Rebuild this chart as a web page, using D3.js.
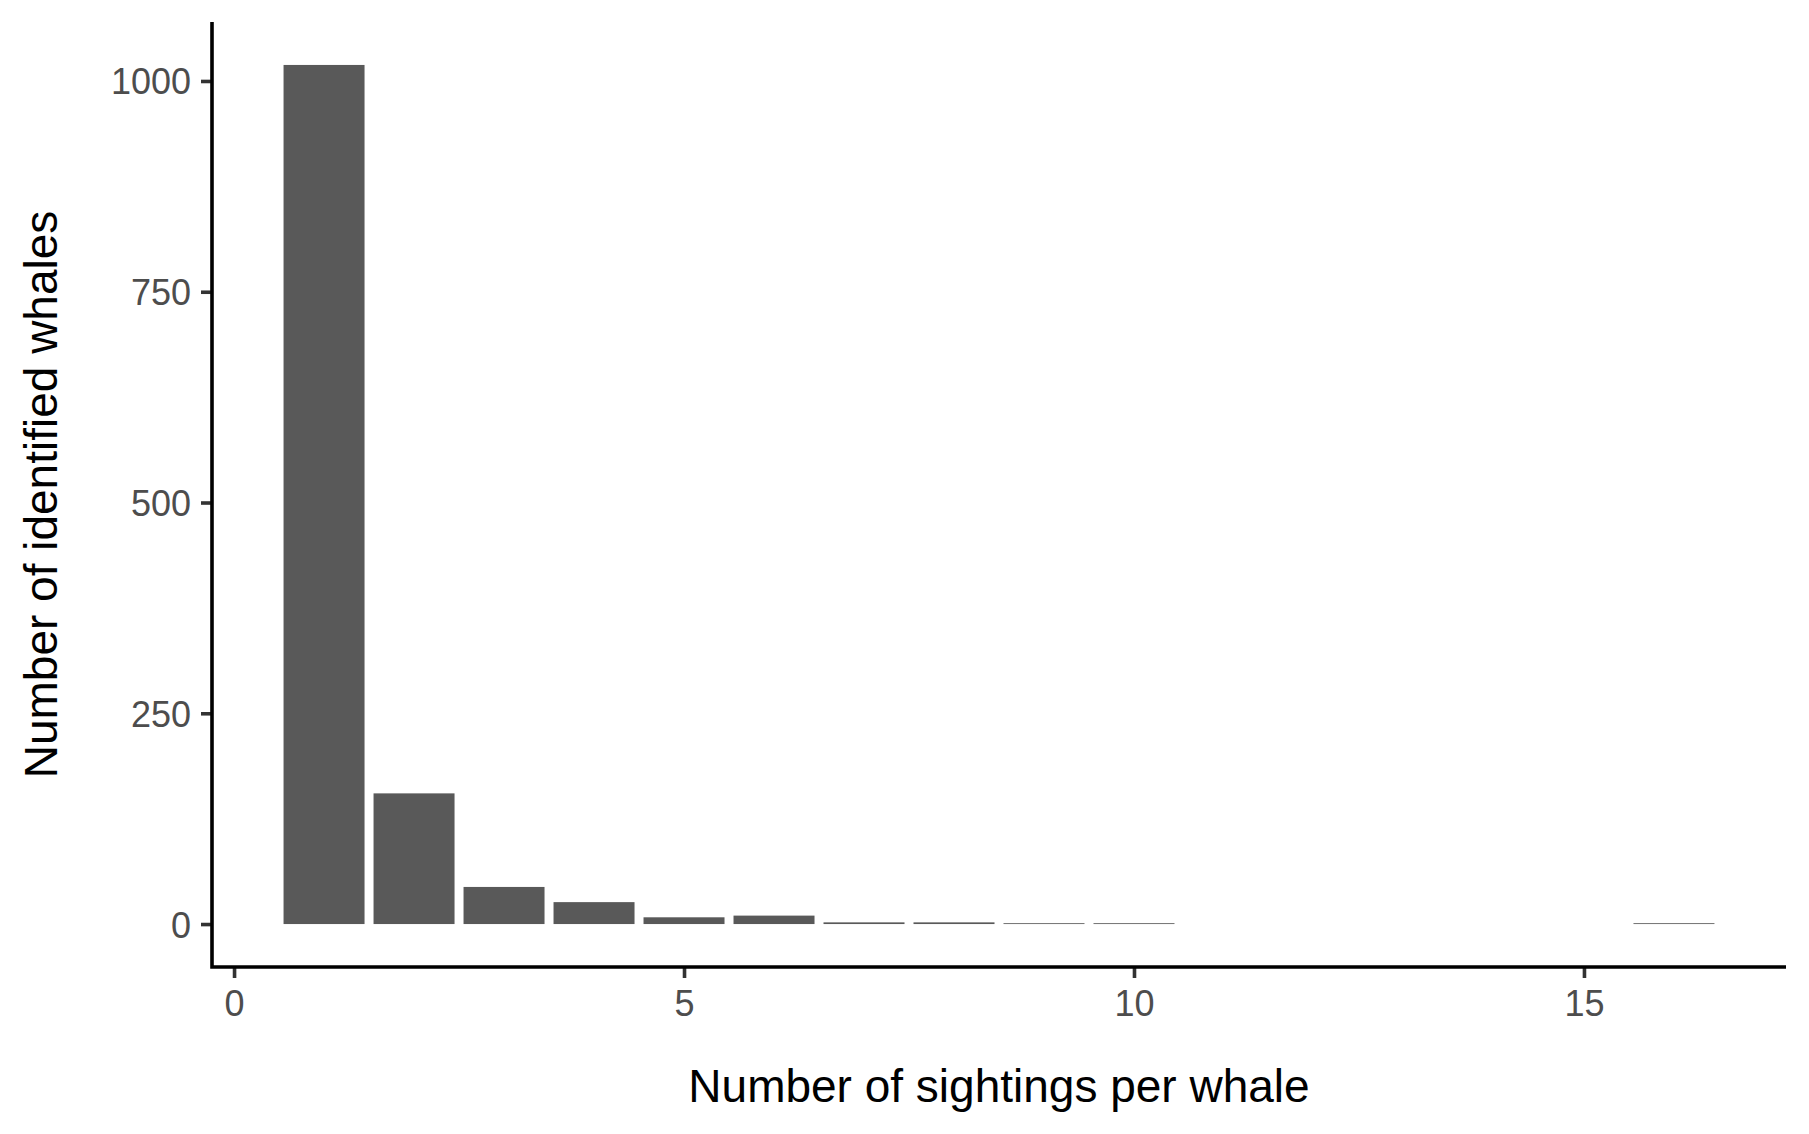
<!DOCTYPE html>
<html>
<head>
<meta charset="utf-8">
<script src="https://cdn.jsdelivr.net/npm/d3@7"></script>
<style>
  body { margin: 0; background: #fff; }
  text { font-family: "Liberation Sans", Arial, sans-serif; }
</style>
</head>
<body>
<div id="chart"></div>
<script>
// sightings per whale (x) and number of whales with that many sightings (y)
const sightings = [1, 2, 3, 4, 5, 6, 7, 8, 9, 10, 16];
const whaleCounts = [1019, 155, 44, 26, 8, 10, 2, 2, 1, 1, 1];
const xTicks = [0, 5, 10, 15];
const yTicks = [0, 250, 500, 750, 1000];
const xTitle = "Number of sightings per whale";
const yTitle = "Number of identified whales";

const width = 1809, height = 1134;
const margin = { top: 22, right: 23, bottom: 167, left: 212 };
const barWidth = 0.9;

const svg = d3.select("#chart").append("svg")
    .attr("width", width)
    .attr("height", height);

// ggplot style 5% expansion around the data
const xMin = d3.min(sightings) - barWidth / 2, xMax = d3.max(sightings) + barWidth / 2;
const xPad = (xMax - xMin) * 0.05;
const x = d3.scaleLinear()
    .domain([xMin - xPad, xMax + xPad])
    .range([margin.left, width - margin.right]);

const yMax = d3.max(whaleCounts);
const yPad = yMax * 0.05;
const y = d3.scaleLinear()
    .domain([-yPad, yMax + yPad])
    .range([height - margin.bottom, margin.top]);

// bars
svg.append("g")
    .selectAll("rect")
    .data(sightings)
    .join("rect")
    .attr("x", d => x(d - barWidth / 2))
    .attr("width", d => x(d + barWidth / 2) - x(d - barWidth / 2))
    .attr("y", (d, i) => y(whaleCounts[i]))
    .attr("height", (d, i) => y(0) - y(whaleCounts[i]))
    .attr("fill", "#595959");

const tickLen = 11, tickCol = "#333333", labelCol = "#4d4d4d";

// x axis
const xAxis = svg.append("g")
    .attr("transform", `translate(0,${height - margin.bottom})`)
    .call(d3.axisBottom(x).tickValues(xTicks).tickSize(tickLen).tickPadding(0).tickFormat(d3.format("d")));
xAxis.select(".domain").remove();
xAxis.selectAll(".tick line").attr("stroke", tickCol).attr("stroke-width", 3.6);
xAxis.selectAll(".tick text")
    .attr("fill", labelCol)
    .attr("font-size", 36)
    .attr("dy", null)
    .attr("y", 49);

// y axis
const yAxis = svg.append("g")
    .attr("transform", `translate(${margin.left},0)`)
    .call(d3.axisLeft(y).tickValues(yTicks).tickSize(tickLen).tickPadding(10).tickFormat(d3.format("d")));
yAxis.select(".domain").remove();
yAxis.selectAll(".tick line").attr("stroke", tickCol).attr("stroke-width", 3.6);
yAxis.selectAll(".tick text")
    .attr("fill", labelCol)
    .attr("font-size", 36)
    .attr("dy", "0.36em");

// axis lines (theme_classic)
svg.append("path")
    .attr("d", `M${margin.left},${margin.top}V${height - margin.bottom}H${width - margin.right}`)
    .attr("fill", "none")
    .attr("stroke", "#000")
    .attr("stroke-width", 3.6)
    .attr("stroke-linejoin", "miter");

// axis titles
svg.append("text")
    .attr("x", (margin.left + width - margin.right) / 2)
    .attr("y", 1102)
    .attr("text-anchor", "middle")
    .attr("font-size", 46)
    .attr("fill", "#000")
    .text(xTitle);

svg.append("text")
    .attr("transform", `translate(57,${(margin.top + height - margin.bottom) / 2}) rotate(-90)`)
    .attr("text-anchor", "middle")
    .attr("font-size", 46)
    .attr("fill", "#000")
    .text(yTitle);
</script>
</body>
</html>
